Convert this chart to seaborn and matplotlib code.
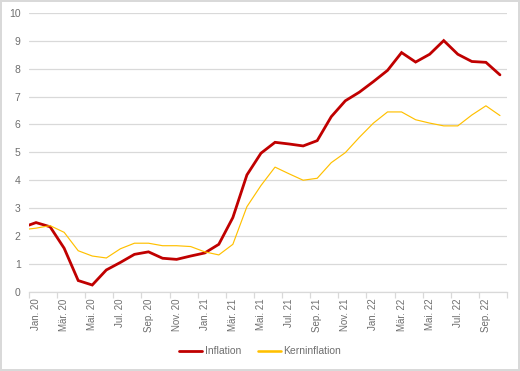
import matplotlib
matplotlib.use("Agg")
import matplotlib.pyplot as plt
from matplotlib.lines import Line2D
from matplotlib.ticker import FixedLocator, NullFormatter
import seaborn as sns
import pandas as pd

# ---- data ----
months = ["Dez. 19",
          "Jan. 20", "Feb. 20", "Mär. 20", "Apr. 20", "Mai. 20", "Jun. 20",
          "Jul. 20", "Aug. 20", "Sep. 20", "Okt. 20", "Nov. 20", "Dez. 20",
          "Jan. 21", "Feb. 21", "Mär. 21", "Apr. 21", "Mai. 21", "Jun. 21",
          "Jul. 21", "Aug. 21", "Sep. 21", "Okt. 21", "Nov. 21", "Dez. 21",
          "Jan. 22", "Feb. 22", "Mär. 22", "Apr. 22", "Mai. 22", "Jun. 22",
          "Jul. 22", "Aug. 22", "Sep. 22", "Okt. 22"]
inflation = [2.30,
             2.48, 2.33, 1.56, 0.40, 0.24, 0.78, 1.05, 1.34, 1.43, 1.20, 1.16, 1.28,
             1.39, 1.70, 2.66, 4.19, 4.97, 5.36, 5.30, 5.23, 5.42, 6.28, 6.85, 7.16,
             7.54, 7.94, 8.58, 8.24, 8.52, 9.01, 8.52, 8.26, 8.23, 7.78]
kerninflation = [2.22,
                 2.28, 2.37, 2.13, 1.47, 1.28, 1.21, 1.54, 1.74, 1.74, 1.65, 1.65, 1.62,
                 1.43, 1.32, 1.70, 3.05, 3.81, 4.47, 4.23, 4.00, 4.07, 4.63, 4.99, 5.54,
                 6.05, 6.45, 6.45, 6.17, 6.05, 5.95, 5.95, 6.34, 6.67, 6.32]
series_names = ["Inflation", "Kerninflation"]
colors = {"Inflation": "#C00000", "Kerninflation": "#FFC000"}
widths = {"Inflation": 2.0, "Kerninflation": 0.85}
yticks = [0, 1, 2, 3, 4, 5, 6, 7, 8, 9, 10]

pos = list(range(-1, len(months) - 1))  # Dez. 19 sits just left of the plot area
df = pd.concat([
    pd.DataFrame({"pos": pos, "monat": months, "wert": inflation, "serie": "Inflation"}),
    pd.DataFrame({"pos": pos, "monat": months, "wert": kerninflation, "serie": "Kerninflation"}),
])

sns.set_style("white")
plt.rcParams["font.family"] = ["Liberation Sans", "DejaVu Sans"]

fig = plt.figure(figsize=(5.2, 3.71), dpi=100)
fig.patch.set_facecolor("white")
fig.patch.set_edgecolor("#D9D9D9")
fig.patch.set_linewidth(1.5)
ax = fig.add_axes([29 / 520, 1 - 291.7 / 371, (507 - 29) / 520, (291.7 - 13) / 371])

for name in series_names:
    sns.lineplot(data=df[df["serie"] == name], x="pos", y="wert", ax=ax,
                 color=colors[name], linewidth=widths[name], legend=False,
                 solid_joinstyle="miter")

ax.set_xlim(-0.5, len(months) - 1.5)
ax.set_ylim(0, 10)
ax.set_yticks(yticks)
ax.set_yticklabels([str(v) for v in yticks])
ax.yaxis.grid(True, color="#D9D9D9", linewidth=0.9)
ax.set_axisbelow(True)

label_pos = [p for p in pos if p >= 0 and p % 2 == 0]
ax.set_xticks(label_pos)
ax.set_xticklabels([months[p + 1] for p in label_pos], rotation=90)
ax.xaxis.set_minor_locator(FixedLocator([p - 0.5 for p in range(0, len(months), 2)]))
ax.xaxis.set_minor_formatter(NullFormatter())
ax.tick_params(axis="x", which="major", length=0, pad=5, labelsize=7, labelcolor="#6E6E6E")
ax.tick_params(axis="x", which="minor", length=4, width=0.9, color="#D9D9D9", bottom=True)
ax.tick_params(axis="y", length=0, pad=6, labelsize=7.5, labelcolor="#6E6E6E")

for s in ["left", "right", "top"]:
    ax.spines[s].set_visible(False)
ax.spines["bottom"].set_color("#D9D9D9")
ax.spines["bottom"].set_linewidth(0.9)
ax.set_xlabel("")
ax.set_ylabel("")

handles = [Line2D([0], [0], color=colors[n], linewidth=widths[n] + (0 if n == "Inflation" else 1.0)) for n in series_names]
fig.legend(handles, series_names, loc="center", bbox_to_anchor=(0.5, 1 - 351.5 / 371),
           ncol=2, frameon=False, fontsize=7.5, handlelength=2.2, handletextpad=0.3,
           columnspacing=1.6, labelcolor="#6E6E6E")

fig.savefig("out.png", dpi=100, facecolor=fig.get_facecolor(), edgecolor=fig.get_edgecolor())
